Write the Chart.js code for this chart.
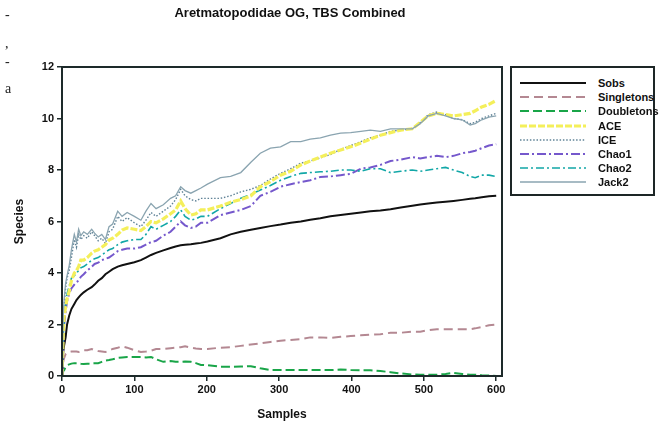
<!DOCTYPE html>
<html>
<head>
<meta charset="utf-8">
<script src="https://cdn.jsdelivr.net/npm/chart.js@4.4.0/dist/chart.umd.min.js"></script>
<style>
  html, body { margin: 0; padding: 0; background: #ffffff; }
  #wrap { position: relative; width: 663px; height: 423px; overflow: hidden; font-family: "Liberation Sans", Arial, sans-serif; }
  #chart { position: absolute; left: 0; top: 0; }
  #title { position: absolute; left: 0; width: 580px; top: 5px; text-align: center; font-weight: bold; font-size: 13px; color: #111; }
  #legend { position: absolute; left: 510px; top: 66px; width: 141px; height: 126px; border: 2px solid #1d2626; background: #fff; }
  .lg { position: absolute; left: 0; height: 14px; width: 141px; }
  .lg svg { position: absolute; left: 6px; top: 2px; }
  .lg span { position: absolute; left: 86px; top: 0; font-weight: bold; font-size: 11px; color: #111; line-height: 14px; white-space: nowrap; }
  .frag { position: absolute; left: 5px; font-family: "Liberation Serif", serif; font-size: 14px; color: #222; }
</style>
</head>
<body>
<div id="wrap">
  <canvas id="chart" width="663" height="423"></canvas>
  <div id="title">Aretmatopodidae OG, TBS Combined</div>
  <div class="frag" style="top:7px">-</div>
  <div class="frag" style="top:36px">,</div>
  <div class="frag" style="top:54px">-</div>
  <div class="frag" style="top:81px">a</div>
  <div id="legend"></div>
</div>
<script>
// ---- data ----
const SAMPLES = [0,1,2,3,5,7,10,13,17,20,23,26,30,35,41,45,50,55,60,65,70,77,83,90,100,109,116,123,130,140,150,157,164,170,178,185,192,201,219,233,247,261,274,288,302,316,330,343,357,371,385,399,413,426,440,454,468,484,495,506,518,530,541,553,564,571,580,590,600];

const SOBS = [0,0.7,1.0,1.2,1.5,2.0,2.35,2.6,2.8,2.95,3.05,3.15,3.25,3.35,3.45,3.55,3.7,3.8,3.95,4.05,4.15,4.25,4.3,4.35,4.42,4.5,4.6,4.7,4.78,4.88,4.97,5.03,5.08,5.1,5.12,5.15,5.17,5.22,5.35,5.5,5.6,5.68,5.75,5.82,5.88,5.95,6.0,6.07,6.13,6.2,6.25,6.3,6.35,6.4,6.43,6.48,6.54,6.61,6.66,6.7,6.74,6.77,6.8,6.84,6.88,6.9,6.94,6.98,7.0];

const SINGLETONS = [0,0.4,0.6,0.7,0.85,0.9,0.93,0.95,0.95,0.95,0.93,0.97,1.0,1.0,1.05,1.0,0.97,0.95,0.93,0.98,1.05,1.1,1.15,1.1,1.0,0.93,0.95,0.98,1.05,1.05,1.08,1.1,1.12,1.15,1.1,1.07,1.05,1.05,1.1,1.12,1.17,1.22,1.27,1.32,1.37,1.4,1.43,1.5,1.5,1.48,1.52,1.55,1.58,1.6,1.62,1.68,1.68,1.72,1.72,1.78,1.82,1.82,1.82,1.82,1.82,1.85,1.9,1.97,2.0];

const DOUBLETONS = [0,0.1,0.2,0.23,0.35,0.42,0.45,0.48,0.5,0.5,0.5,0.48,0.47,0.48,0.47,0.5,0.5,0.55,0.6,0.62,0.65,0.7,0.72,0.74,0.74,0.74,0.72,0.74,0.65,0.55,0.58,0.55,0.55,0.56,0.55,0.5,0.43,0.42,0.36,0.36,0.37,0.38,0.3,0.23,0.23,0.23,0.23,0.23,0.23,0.23,0.25,0.23,0.22,0.22,0.19,0.15,0.1,0.06,0.05,0.05,0.05,0.08,0.12,0.08,0.05,0.05,0.03,0.02,0.0];

const ACE = [0,1.0,1.8,2.3,2.7,3.0,3.3,3.7,4.0,4.1,4.25,4.5,4.5,4.6,4.77,4.85,4.9,5.0,5.1,5.28,5.35,5.5,5.67,5.75,5.7,5.65,5.8,6.0,5.95,6.1,6.3,6.45,6.8,6.5,6.25,6.3,6.45,6.45,6.6,6.75,6.85,7.0,7.35,7.55,7.8,7.95,8.2,8.35,8.5,8.65,8.78,8.9,9.05,9.2,9.35,9.45,9.55,9.6,9.85,10.1,10.2,10.15,10.1,10.15,10.2,10.3,10.45,10.55,10.7];

const ICE = [0,1.3,2.2,2.8,3.4,3.8,4.1,4.6,5.3,5.0,5.5,5.3,5.45,5.35,5.6,5.45,5.25,5.35,5.15,5.6,5.7,6.2,6.0,6.15,5.95,5.8,6.05,6.35,6.2,6.4,6.6,6.85,7.25,7.0,6.85,6.8,6.9,6.9,6.9,7.0,7.15,7.25,7.4,7.65,7.87,8.05,8.27,8.35,8.47,8.6,8.8,8.95,9.1,9.25,9.35,9.5,9.55,9.6,9.85,10.15,10.25,10.15,10.0,9.95,9.8,9.85,10.0,10.1,10.2];

const CHAO1 = [0,0.9,1.5,2.0,2.5,2.9,3.2,3.4,3.55,3.65,3.7,3.85,3.95,4.1,4.24,4.35,4.4,4.5,4.55,4.6,4.7,4.85,4.9,4.95,4.95,5.0,5.1,5.2,5.25,5.45,5.6,5.8,6.0,5.85,5.75,5.8,5.95,5.95,6.25,6.35,6.45,6.6,7.0,7.15,7.35,7.45,7.53,7.6,7.73,7.75,7.8,7.85,8.05,8.1,8.2,8.35,8.4,8.5,8.45,8.5,8.55,8.5,8.55,8.65,8.7,8.75,8.85,8.95,9.0];

const CHAO2 = [0,1.0,1.7,2.2,2.8,3.2,3.5,3.8,3.9,4.0,4.1,4.2,4.25,4.35,4.5,4.55,4.6,4.7,4.8,4.9,4.95,5.1,5.2,5.25,5.3,5.3,5.5,5.8,5.7,5.85,6.0,6.2,6.45,6.2,6.05,6.1,6.2,6.2,6.5,6.7,6.9,7.05,7.22,7.4,7.6,7.75,7.87,7.9,7.93,7.95,8.0,8.0,7.95,8.05,8.05,7.9,7.95,8.0,7.95,8.0,8.05,8.1,8.0,7.9,7.75,7.7,7.8,7.8,7.75];

const JACK2 = [0,1.5,2.5,3.0,3.6,3.9,4.3,4.9,5.5,5.2,5.7,5.45,5.6,5.5,5.7,5.55,5.4,5.5,5.3,5.8,5.9,6.4,6.2,6.35,6.2,6.05,6.4,6.7,6.5,6.65,6.9,7.0,7.35,7.2,7.1,7.2,7.3,7.45,7.7,7.75,7.9,8.3,8.65,8.85,8.9,9.1,9.1,9.2,9.25,9.35,9.43,9.45,9.5,9.55,9.5,9.6,9.6,9.6,9.8,10.1,10.2,10.1,10.0,9.95,9.75,9.8,9.95,10.05,10.1];

const SERIES_NAMES = ["Sobs","Singletons","Doubletons","ACE","ICE","Chao1","Chao2","Jack2"];
const SERIES_VALUES = [SOBS, SINGLETONS, DOUBLETONS, ACE, ICE, CHAO1, CHAO2, JACK2];
const X_TICKS = [0,100,200,300,400,500,600];
const Y_TICKS = [0,2,4,6,8,10,12];

// ---- styles ----
const STYLES = {
  Sobs:       { color: "#111111", width: 2,   dash: [] },
  Singletons: { color: "#b48892", width: 2,   dash: [9,5] },
  Doubletons: { color: "#19a548", width: 2,   dash: [9,4] },
  ACE:        { color: "#f4ef5a", width: 3.2, dash: [7,2] },
  ICE:        { color: "#5f8296", width: 1.4, dash: [1.5,1.8] },
  Chao1:      { color: "#7558cc", width: 2,   dash: [9,3,2,3] },
  Chao2:      { color: "#12a7a7", width: 1.6, dash: [8,3,2,3] },
  Jack2:      { color: "#8aa4b0", width: 1.3, dash: [] }
};
const DRAW_ORDER = ["Jack2","ACE","ICE","Chao2","Chao1","Sobs","Singletons","Doubletons"];

const datasets = DRAW_ORDER.map((name, k) => {
  const vals = SERIES_VALUES[SERIES_NAMES.indexOf(name)];
  const st = STYLES[name];
  return {
    label: name,
    data: SAMPLES.map((s, i) => ({ x: s, y: vals[i] })),
    borderColor: st.color,
    borderWidth: st.width,
    borderDash: st.dash,
    pointRadius: 0,
    tension: 0,
    fill: false,
    order: k
  };
});

// ---- legend (HTML) ----
const legend = document.getElementById("legend");
SERIES_NAMES.forEach((name, i) => {
  const st = STYLES[name];
  const d = document.createElement("div");
  d.className = "lg";
  d.style.top = (8 + i * 14.2) + "px";
  d.innerHTML = '<svg width="70" height="10"><line x1="2" y1="5" x2="68" y2="5" stroke="' + st.color +
    '" stroke-width="' + Math.max(st.width, 1.5) + '" stroke-dasharray="' + (st.dash.length ? st.dash.join(",") : "none") +
    '"/></svg><span>' + name + '</span>';
  legend.appendChild(d);
});

const AXIS = "#1d2a2a";
const frame = {
  id: "frame",
  afterDatasetsDraw(chart) {
    const a = chart.chartArea, c = chart.ctx;
    c.save();
    c.strokeStyle = AXIS;
    c.lineWidth = 2;
    c.strokeRect(a.left, a.top, a.right - a.left, a.bottom - a.top);
    c.restore();
  }
};

const tickFont = { family: "'Liberation Sans', Arial, sans-serif", size: 11, weight: "bold" };
const titleFont = { family: "'Liberation Sans', Arial, sans-serif", size: 12, weight: "bold" };

new Chart(document.getElementById("chart"), {
  type: "line",
  data: { datasets },
  plugins: [frame],
  options: {
    responsive: false,
    animation: false,
    layout: { padding: { left: 0, right: 161, top: 67, bottom: 0 } },
    plugins: { legend: { display: false }, title: { display: false }, tooltip: { enabled: false } },
    scales: {
      x: {
        type: "linear",
        min: 0, max: 608,
        afterFit(s) { s.height = 47; },
        afterBuildTicks(s) { s.ticks = X_TICKS.map(v => ({ value: v })); },
        ticks: { font: tickFont, color: "#111", padding: 2, maxRotation: 0 },
        grid: { display: true, drawOnChartArea: false, tickLength: 5, color: AXIS, lineWidth: 1.5 },
        border: { display: true, color: AXIS, width: 2 },
        title: { display: true, text: "Samples", font: titleFont, color: "#111", padding: { top: 6, bottom: 1 } }
      },
      y: {
        min: 0, max: 12,
        afterFit(s) { s.width = 62; },
        afterBuildTicks(s) { s.ticks = Y_TICKS.map(v => ({ value: v })); },
        ticks: { font: tickFont, color: "#111", padding: 3 },
        grid: { display: true, drawOnChartArea: false, tickLength: 5, color: AXIS, lineWidth: 1.5 },
        border: { display: true, color: AXIS, width: 2 },
        title: { display: true, text: "Species", font: titleFont, color: "#111", padding: { top: 12, bottom: 4 } }
      }
    }
  }
});
</script>
</body>
</html>
